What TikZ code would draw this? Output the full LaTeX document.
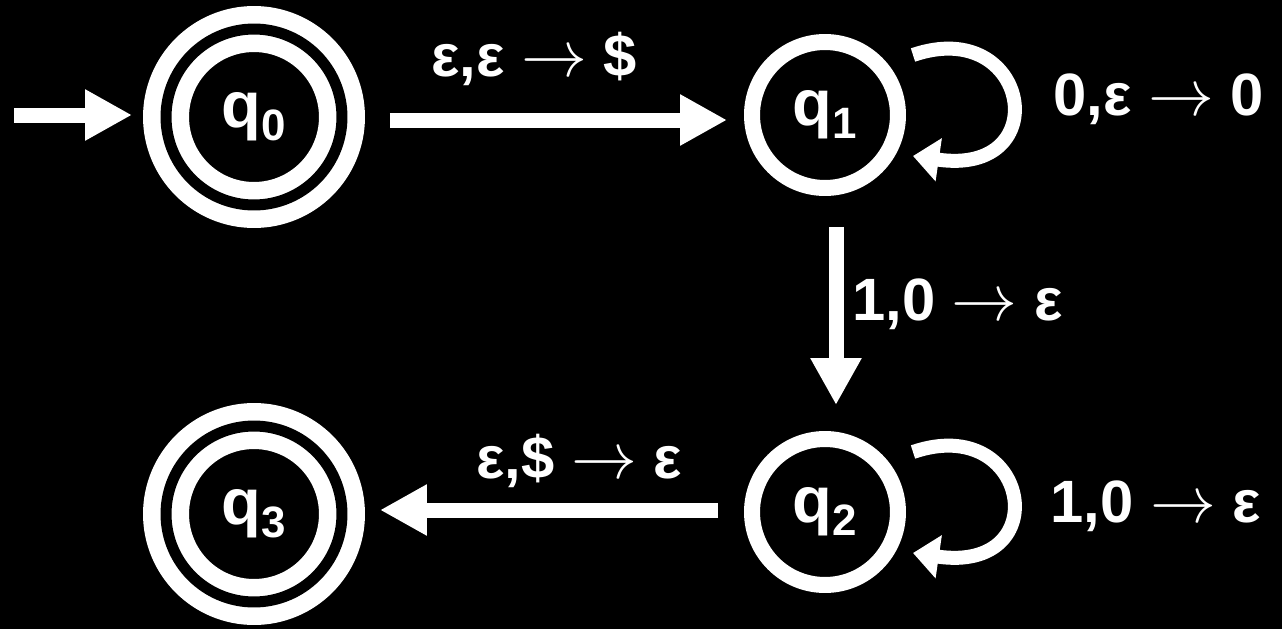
\documentclass[tikz,border=0pt]{standalone}
\usepackage{fontspec}
\usepackage{graphicx}
\setmainfont{Liberation Sans}
\usetikzlibrary{arrows.meta,calc}
\newcommand\arrw{\raisebox{-0.5pt}{\scalebox{3.75}{\normalsize$\rightarrow$}}}
\newcommand\stt[1]{q\raisebox{-7pt}{\fontsize{25}{25}\selectfont #1}}
\begin{document}
\begin{tikzpicture}[x=0.02cm,y=-0.02cm,
  state/.style={circle, draw=white, line width=0.32cm, minimum size=2.92cm, inner sep=0pt, outer sep=0.16cm, text=white, font=\bfseries\fontsize{37}{40}\selectfont},
  accept/.style={state, line width=0.35cm, double=black, double distance=0.22cm, minimum size=3.52cm, outer sep=0.46cm},
  edge/.style={draw=white, line width=0.3cm, -{Triangle[length=0.94cm, width=0.96cm]}},
  loopedge/.style={draw=white, line width=0.28cm, -{Triangle[length=0.52cm, width=0.84cm]}},
  lbl/.style={text=white, font=\bfseries\fontsize{34}{40}\selectfont, inner sep=0pt, anchor=base west}]
\fill[black] (0,0) rectangle (1282,629);
\useasboundingbox (0,0) rectangle (1282,629);
% states
\node[accept] (q0) at (254,117) {\stt{0}};
\node[state]  (q1) at (825,115) {\stt{1}};
\node[state]  (q2) at (825,512) {\stt{2}};
\node[accept] (q3) at (254,514) {\stt{3}};
% initial arrow
\coordinate (init) at (14,115);
\draw[edge, shorten >=0.22cm] (init) -- (init -| q0.west);
% transitions
\draw[edge] ($(q0.east)+(25,3)$) -- ($(q1.west)+(-17,5)$);
\draw[edge] ($(q1.south)+(11,31)$) -- ($(q2.north)+(11,-26)$);
\draw[edge] ($(q2.west)+(-26,-2)$) -- ($(q3.east)+(15,-4)$);
% loops
\draw[loopedge] ($(q1)+(88,-60)$) .. controls ($(q1)+(205,-100)$) and ($(q1)+(232,62)$) .. ($(q1)+(88,41)$);
\draw[loopedge] ($(q2)+(88,-60)$) .. controls ($(q2)+(205,-100)$) and ($(q2)+(232,62)$) .. ($(q2)+(88,41)$);
% labels
\node[lbl] (l01) at (431,76) {ε,ε \arrw{} \$};
\node[lbl] (l11) at (1053,115) {0,ε \arrw{} 0};
\node[lbl] (l12) at (852,320) {1,0 \arrw{} ε};
\node[lbl] (l22) at (1050,522) {1,0 \arrw{} ε};
\node[lbl] (l23) at (476,478) {ε,\$ \arrw{} ε};
\end{tikzpicture}
\end{document}
